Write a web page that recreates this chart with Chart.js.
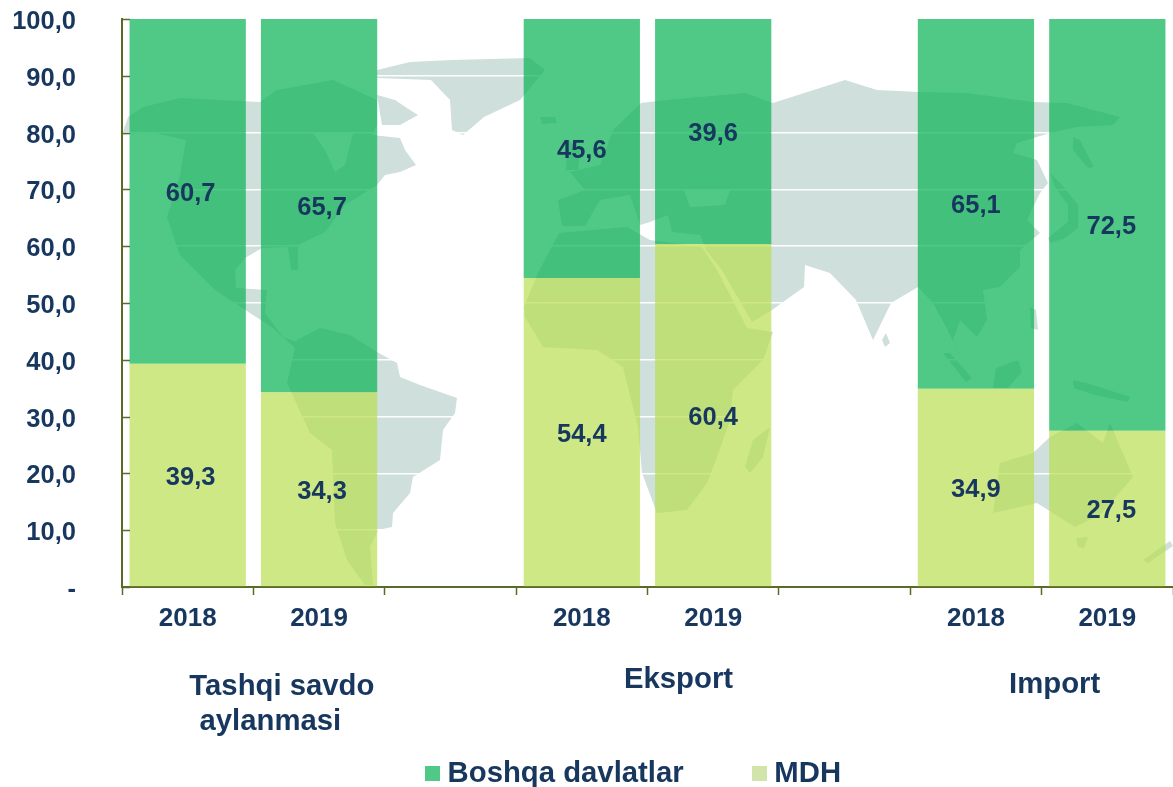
<!DOCTYPE html>
<html>
<head>
<meta charset="utf-8">
<script src="https://cdn.jsdelivr.net/npm/chart.js@4"></script>
<style>html,body{margin:0;padding:0;background:#fff}canvas{display:block}</style>
</head>
<body>
<canvas id="c" width="1173" height="787"></canvas>
<script>
const categories = ['2018','2019','','2018','2019','','2018','2019'];
const mdh = [39.3,34.3,null,54.4,60.4,null,34.9,27.5];
const boshqa = [60.7,65.7,null,45.6,39.6,null,65.1,72.5];
const seriesNames = ['MDH','Boshqa davlatlar'];
const groupLabels = [['Tashqi savdo','aylanmasi'],['Eksport'],['Import']];

const FONT = '"Liberation Sans", Arial, sans-serif';
const INK = '#17375e', AXIS = '#5a6a28', LAND = '#cfdfdb';
const fmt = v => v.toFixed(1).replace('.', ',');

/* Decorative world map behind the chart (not data) */
const land = [
 [[122,135],[128,117],[143,107],[180,98],[260,102],[277,90],[333,80],[377,100],[377,125],[372,135],[400,138],[405,150],[416,165],[400,172],[385,175],[377,185],[345,205],[325,232],[298,245],[298,270],[291,270],[288,247],[262,248],[245,258],[235,270],[236,288],[267,290],[265,313],[283,337],[300,343],[297,350],[273,328],[250,313],[215,290],[180,255],[167,217],[180,175],[186,140],[150,132]],
 [[377,95],[395,100],[410,110],[418,115],[400,125],[382,125]],
 [[377,70],[410,62],[452,60],[530,58],[545,70],[520,100],[484,117],[463,135],[452,130],[450,100],[431,80],[377,78]],
 [[540,117],[555,117],[557,123],[542,124]],
 [[568,140],[580,150],[578,170],[566,170]],
 [[297,340],[320,328],[350,335],[377,352],[397,363],[400,377],[420,385],[457,398],[455,413],[443,430],[440,460],[413,477],[410,493],[393,513],[392,527],[378,530],[370,547],[373,585],[365,585],[347,560],[335,523],[332,450],[310,433],[287,383]],
 [[613,130],[641,103],[666,100],[745,93],[773,103],[845,80],[877,90],[918,92],[967,93],[1033,102],[1067,103],[1120,117],[1113,125],[1077,127],[1050,133],[1017,143],[1013,153],[1037,160],[1048,183],[1040,193],[1027,220],[1040,233],[1020,250],[1020,267],[1000,287],[983,290],[987,320],[977,337],[960,320],[953,340],[965,365],[945,325],[933,303],[918,287],[891,303],[873,340],[856,300],[830,273],[805,265],[804,287],[772,310],[752,322],[722,270],[706,250],[700,235],[672,232],[668,215],[650,222],[640,225],[630,195],[600,200],[585,226],[562,226],[558,200],[585,190],[570,172],[600,165]],
 [[559,233],[627,227],[650,240],[702,247],[717,270],[747,328],[773,332],[763,360],[733,390],[730,420],[717,457],[707,483],[687,510],[657,513],[642,473],[638,427],[623,367],[597,350],[543,347],[525,317],[524,307],[538,273]],
 [[770,427],[763,457],[750,473],[745,467],[753,440]],
 [[886,333],[890,343],[885,347],[882,340]],
 [[1000,463],[993,513],[1037,503],[1075,527],[1100,515],[1133,477],[1110,423],[1103,443],[1077,423],[1050,437],[1033,453]],
 [[1076,538],[1088,537],[1084,548],[1078,547]],
 [[1143,560],[1170,541],[1173,546],[1148,563]],
 [[943,353],[950,353],[972,378],[966,382]],
 [[993,388],[996,368],[1018,360],[1022,372],[1008,388]],
 [[1030,307],[1036,310],[1038,330],[1031,328]],
 [[1073,380],[1090,384],[1130,397],[1128,402],[1095,395],[1074,388]],
 [[1073,137],[1080,140],[1094,167],[1088,168],[1073,150]],
 [[1050,173],[1062,185],[1078,205],[1078,228],[1065,238],[1050,243],[1048,238],[1068,222],[1068,205],[1055,187]],
];
const water = [
 [[313,133],[353,133],[345,165],[335,172],[325,150]],
 [[684,190],[730,190],[725,205],[690,207]],
];
function poly(ctx, list, color){
  ctx.fillStyle = color;
  list.forEach(p => {
    ctx.beginPath();
    p.forEach(([x,y],i) => i ? ctx.lineTo(x,y) : ctx.moveTo(x,y));
    ctx.closePath(); ctx.fill();
  });
}
const mapPlugin = { id:'map', beforeDraw(chart){
  const ctx = chart.ctx; ctx.save();
  ctx.fillStyle = '#fff'; ctx.fillRect(0,0,chart.width,chart.height);
  poly(ctx, land, LAND); poly(ctx, water, '#fff');
  ctx.restore();
}};

/* Inner y-axis ticks, value labels and group captions */
const nudge = [3,3,0,0,0,0,0,4];
const groupPlace = [
  {idx:0.5, dx:[28.5,17], y:[687,722]},
  {idx:3.5, dx:[31], y:[680]},
  {idx:6.5, dx:[13], y:[685]},
];
const annotate = { id:'annotate', afterDraw(chart){
  const ctx = chart.ctx, xs = chart.scales.x, ys = chart.scales.y;
  ctx.save();
  ctx.strokeStyle = AXIS; ctx.lineWidth = 1.5;
  ys.ticks.forEach(t => {
    const y = Math.round(ys.getPixelForValue(t.value))+0.5;
    ctx.beginPath(); ctx.moveTo(chart.chartArea.left,y); ctx.lineTo(chart.chartArea.left+8,y); ctx.stroke();
  });
  ctx.fillStyle = INK; ctx.textAlign='center'; ctx.textBaseline='middle';
  ctx.font = 'bold 25.5px '+FONT;
  chart.data.datasets.forEach((ds,di) => {
    chart.getDatasetMeta(di).data.forEach((bar,i) => {
      if (ds.data[i]==null) return;
      const p = bar.getProps(['x','y','base'],true);
      ctx.fillText(fmt(ds.data[i]), p.x+nudge[i], (p.y+p.base)/2+2.5);
    });
  });
  ctx.font = 'bold 29.3px '+FONT;
  groupLabels.forEach((lines,g) => {
    const pl = groupPlace[g];
    const cx = xs.left + (pl.idx+0.5)*(xs.width/categories.length);
    lines.forEach((s,k) => ctx.fillText(s, cx+pl.dx[k], pl.y[k]));
  });
  ctx.restore();
}};

/* Move the legend row to its place under the plot */
const legendPlace = { id:'legendPlace', afterLayout(chart){
  const l = chart.legend; if(!l) return;
  l.left += 50; l.right += 50; l.top = 684; l.bottom = 787;
}};
function swatch(color){
  const c = document.createElement('canvas'); c.width = 15; c.height = 15;
  const g = c.getContext('2d'); g.fillStyle = color; g.fillRect(0,0,15,15);
  return c;
}
const legendColors = {'Boshqa davlatlar':'#50c987','MDH':'#d1e4a9'};

new Chart(document.getElementById('c'), {
  type:'bar',
  data:{
    labels:categories,
    datasets:[
      {label:seriesNames[0], data:mdh, backgroundColor:'rgba(184,222,81,0.7)', stack:'s'},
      {label:seriesNames[1], data:boshqa, backgroundColor:'rgba(5,178,84,0.7)', stack:'s'},
    ]
  },
  plugins:[mapPlugin, annotate, legendPlace],
  options:{
    responsive:false, animation:false, devicePixelRatio:1,
    datasets:{bar:{categoryPercentage:1, barPercentage:0.885}},
    layout:{padding:{top:19,left:0,right:0,bottom:0}},
    plugins:{
      tooltip:{enabled:false},
      title:{display:false},
      legend:{
        position:'bottom', maxHeight:33,
        labels:{
          usePointStyle:true, boxWidth:1, boxHeight:29, padding:75, color:INK,
          font:{family:FONT, size:29.3, weight:'bold'},
          generateLabels(chart){
            return [1,0].map(i => {
              const name = chart.data.datasets[i].label;
              return {text:name, fontColor:INK, datasetIndex:i, pointStyle:swatch(legendColors[name]), lineWidth:0, strokeStyle:'transparent', fillStyle:legendColors[name]};
            });
          }
        }
      }
    },
    scales:{
      x:{
        stacked:true,
        afterFit(s){ s.height = 167; },
        grid:{drawOnChartArea:false, drawTicks:true, tickLength:8, tickColor:AXIS, tickWidth:1.5},
        border:{color:AXIS, width:2},
        ticks:{color:INK, autoSkip:false, maxRotation:0, padding:8, font:{family:FONT,size:26,weight:'bold'}}
      },
      y:{
        stacked:true, min:0, max:100,
        afterFit(s){
          s.width = 122; s.paddingTop = 0; s.paddingBottom = 0;
          const compute = s._computeLabelItems;
          s._computeLabelItems = function(area){
            const items = compute.call(this, area);
            items.forEach(it => { it.options.translation = [it.options.translation[0], it.options.translation[1]+1.5]; });
            return items;
          };
        },
        grid:{color:'#ffffff', lineWidth:1.5, drawTicks:false},
        border:{color:AXIS, width:2},
        ticks:{stepSize:10, color:INK, padding:46, font:{family:FONT,size:25.5,weight:'bold'},
          callback:v => v===0 ? '-' : fmt(v)}
      }
    }
  }
});
</script>
</body>
</html>
